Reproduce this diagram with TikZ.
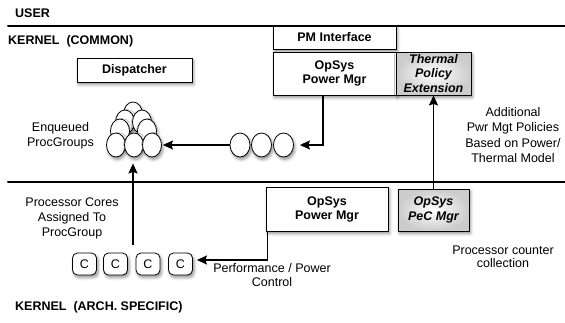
\documentclass[tikz,border=0pt]{standalone}
\usepackage{fontspec}
\setmainfont{Liberation Sans}
\usetikzlibrary{arrows.meta,shadows.blur,shapes.geometric}
\begin{document}
\begin{tikzpicture}[x=1pt,y=-1pt,
  txt/.style={inner sep=0pt, align=center, font=\fontsize{12.5}{15}\selectfont},
  head/.style={inner sep=0pt, anchor=west, font=\fontsize{12.5}{15}\selectfont\bfseries},
  shd/.style={blur shadow={shadow xshift=1.5pt, shadow yshift=-2.5pt, shadow blur radius=3pt, shadow opacity=45}},
  box/.style={shd, draw=black, line width=0.8pt, fill=white, inner sep=0pt, align=center,
    font=\fontsize{12.5}{14}\selectfont\bfseries},
  gbox/.style={box, inner color=white, outer color=black!20,
    font=\fontsize{12.5}{14.5}\selectfont\bfseries\itshape},
  oval/.style={shd, ellipse, draw=black, line width=0.8pt, fill=white, inner sep=0pt,
    minimum width=19pt, minimum height=24pt},
  cbox/.style={shd, draw=black, line width=0.8pt, fill=white, rounded corners=5pt, inner sep=0pt,
    minimum width=24pt, minimum height=22pt, font=\fontsize{12.5}{14}\selectfont},
  arr/.style={line width=1.6pt, -{Stealth[length=10pt,width=9pt,inset=1.5pt]}},
  sep/.style={line width=2pt, line cap=round}
]
\useasboundingbox (0,0) rectangle (565,322);

% separator lines
\coordinate (l1a) at (8,26);  \coordinate (l1b) at (565,26);
\coordinate (l2a) at (8,182); \coordinate (l2b) at (565,182);

% headings
\node[head] (huser) at (15,13) {USER};
\node[head] (hcom) at (8,41) {KERNEL\ \ (COMMON)};
\node[head] (harch) at (15,307) {KERNEL\ \ (ARCH. SPECIFIC)};

% boxes
\node[box, minimum width=115pt, minimum height=24pt] (disp) at (134.5,70) {Dispatcher};
\node[box, minimum width=123pt, minimum height=23pt] (pmi) at (334.5,37.5) {PM Interface};
\node[box, minimum width=123pt, minimum height=43pt] (opu) at (334.5,73.5) {OpSys\\Power Mgr};
\node[gbox, minimum width=75pt, minimum height=43pt] (th) at (433.5,73.5) {Thermal\\Policy\\Extension};
\node[box, minimum width=122pt, minimum height=44pt] (opl) at (327,209) {OpSys\\Power Mgr};
\node[gbox, minimum width=71pt, minimum height=42pt] (pec) at (433.5,210) {OpSys\\PeC Mgr};

\draw[sep] (l1a) -- (l1b);
\draw[sep] (l2a) -- (l2b);

% pyramid of enqueued proc groups
\node[oval] (p7) at (133,114) {};
\node[oval] (p5) at (125,122) {};
\node[oval] (p6) at (142,122) {};
\node[oval] (p4) at (120,131) {};
\node[oval] (p8) at (147,131) {};
\node[oval] (p1) at (116,145) {};
\node[oval] (p2) at (134,145) {};
\node[oval] (p3) at (152,145) {};

% queue
\node[oval, minimum width=20pt] (ov1) at (240,145) {};
\node[oval, minimum width=20pt] (ov2) at (261.5,145) {};
\node[oval, minimum width=20pt] (ov3) at (283.5,145) {};

% cores
\node[cbox] (c1) at (84.5,264) {C};
\node[cbox] (c2) at (115.5,264) {C};
\node[cbox] (c3) at (148,264) {C};
\node[cbox] (c4) at (180.5,264) {C};

% labels
\node[txt] (tenq) at (60.5,135.5) {Enqueued\\ProcGroups};
\node[txt] (tcores) at (72,218) {Processor Cores\\Assigned To\\ProcGroup};
\node[txt, font=\fontsize{12.5}{15.3}\selectfont] (tadd) at (513,135) {Additional\\Pwr Mgt Policies\\Based on Power/\\Thermal Model};
\node[txt, font=\fontsize{12.5}{14}\selectfont] (tperf) at (272,275) {Performance / Power\\Control};
\node[txt, font=\fontsize{12.5}{13.3}\selectfont] (tpec) at (503,256.5) {Processor counter\\collection};

% connectors
\coordinate (cu) at (133,245);
\draw[arr, shorten >=6pt] ([xshift=-11.5pt]opu.south) |- (ov3.east);
\draw[arr] (ov1.west) -- ([xshift=1pt]p3.east);
\draw[arr, shorten >=6pt] (cu) -- (cu |- p2.south);
\draw[arr, shorten >=4pt] ([xshift=2pt]opl.south west) |- ([yshift=4pt]c4.east);
\draw[arr] (pec.north) -- (th.south);
\end{tikzpicture}
\end{document}
